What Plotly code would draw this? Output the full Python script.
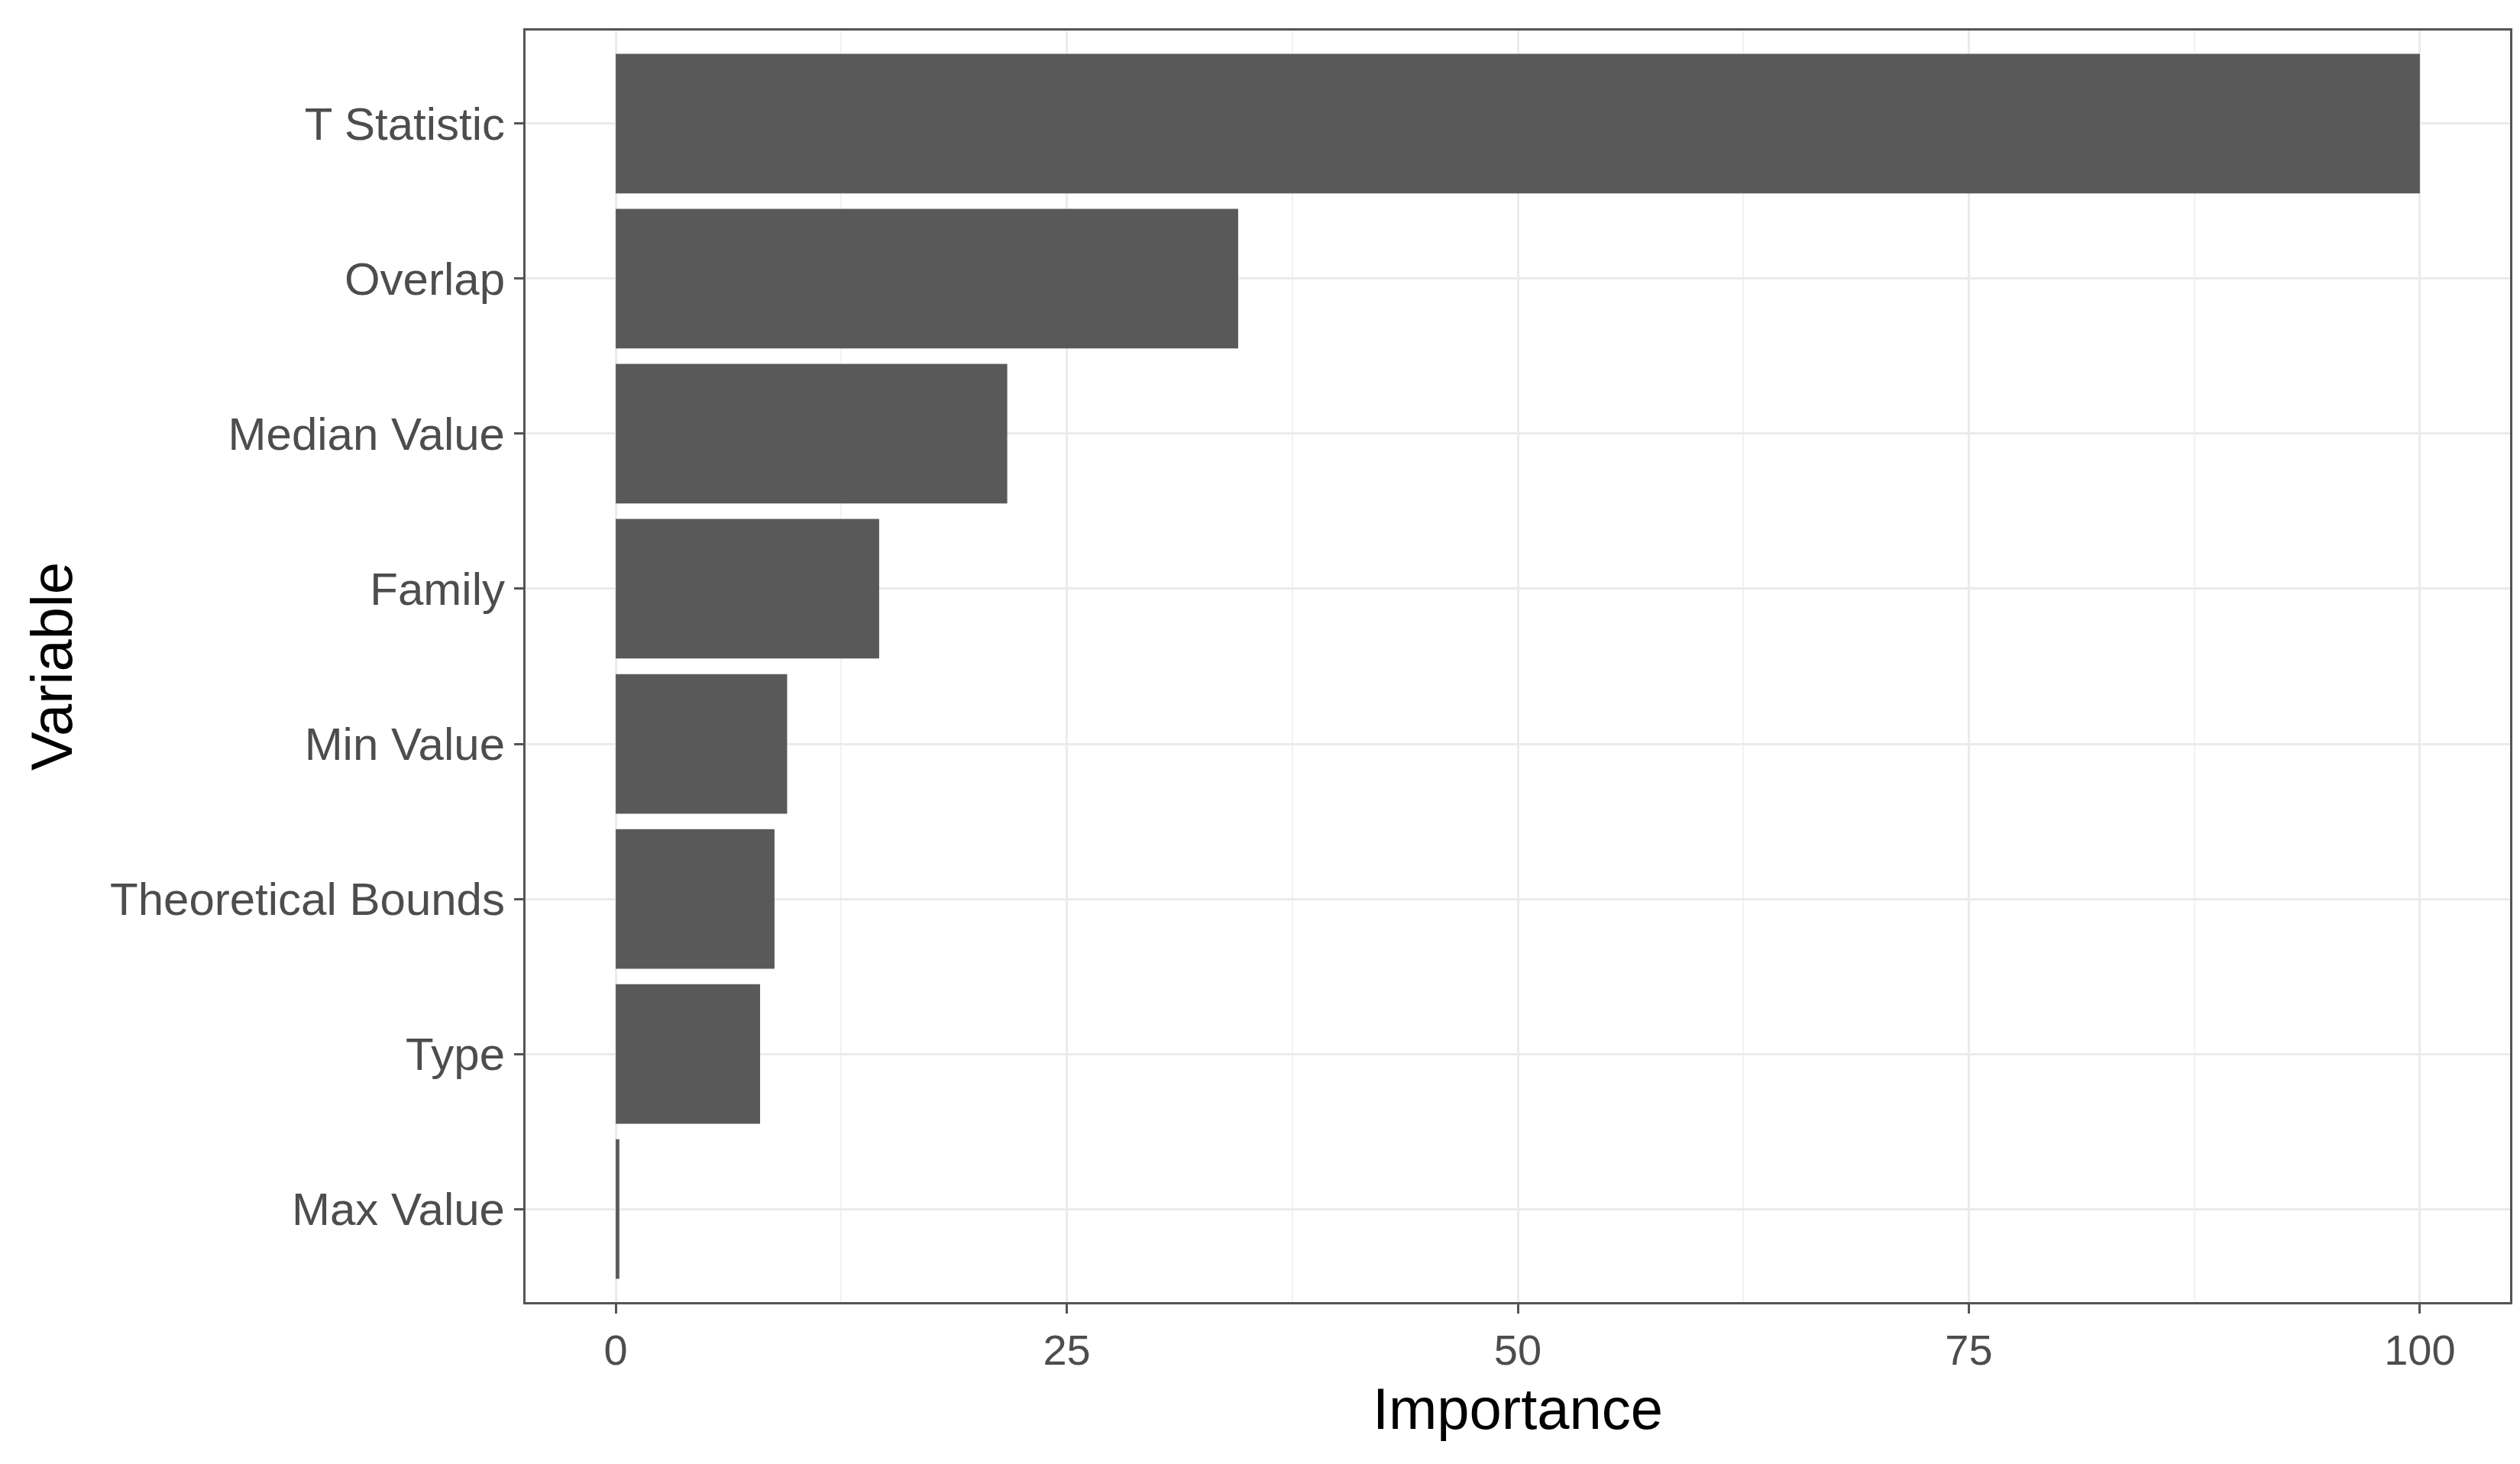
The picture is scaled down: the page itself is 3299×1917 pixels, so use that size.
import plotly.graph_objects as go

variables = ["Max Value", "Type", "Theoretical Bounds", "Min Value", "Family", "Median Value", "Overlap", "T Statistic"]
importance = [0.2, 8.0, 8.8, 9.5, 14.6, 21.7, 34.5, 100]
x_ticks = [0, 25, 50, 75, 100]

fig = go.Figure(go.Bar(x=importance, y=variables, orientation="h",
                       marker=dict(color="#595959", line=dict(width=0)), width=0.9))
fig.update_layout(
    width=3299, height=1917, plot_bgcolor="white", paper_bgcolor="white",
    margin=dict(l=680, r=21, t=32, b=220),
    font=dict(family="Liberation Sans, Arial", color="#4D4D4D", size=60),
    showlegend=False,
)
fig.update_xaxes(range=[-5, 105], tickvals=x_ticks, ticks="outside", ticklen=12, tickcolor="#555555",
                 tickwidth=3, showgrid=True, gridcolor="#EBEBEB", gridwidth=3,
                 minor=dict(tickvals=[12.5, 37.5, 62.5, 87.5], showgrid=True, gridcolor="#F2F2F2", gridwidth=2),
                 zeroline=False, showline=True, linecolor="#555555", linewidth=3, mirror=True,
                 title=dict(text="Importance", font=dict(size=76, color="black"), standoff=20),
                 tickfont=dict(size=56, color="#4D4D4D"))
fig.update_yaxes(range=[-0.6, 7.6], ticks="outside", ticklen=12, tickcolor="#555555", tickwidth=3,
                 showgrid=True, gridcolor="#EBEBEB", gridwidth=3, zeroline=False,
                 showline=True, linecolor="#555555", linewidth=3, mirror=True,
                 title=dict(text="Variable", font=dict(size=76, color="black"), standoff=25),
                 tickfont=dict(size=60, color="#4D4D4D"))
fig.write_html("out.html")
